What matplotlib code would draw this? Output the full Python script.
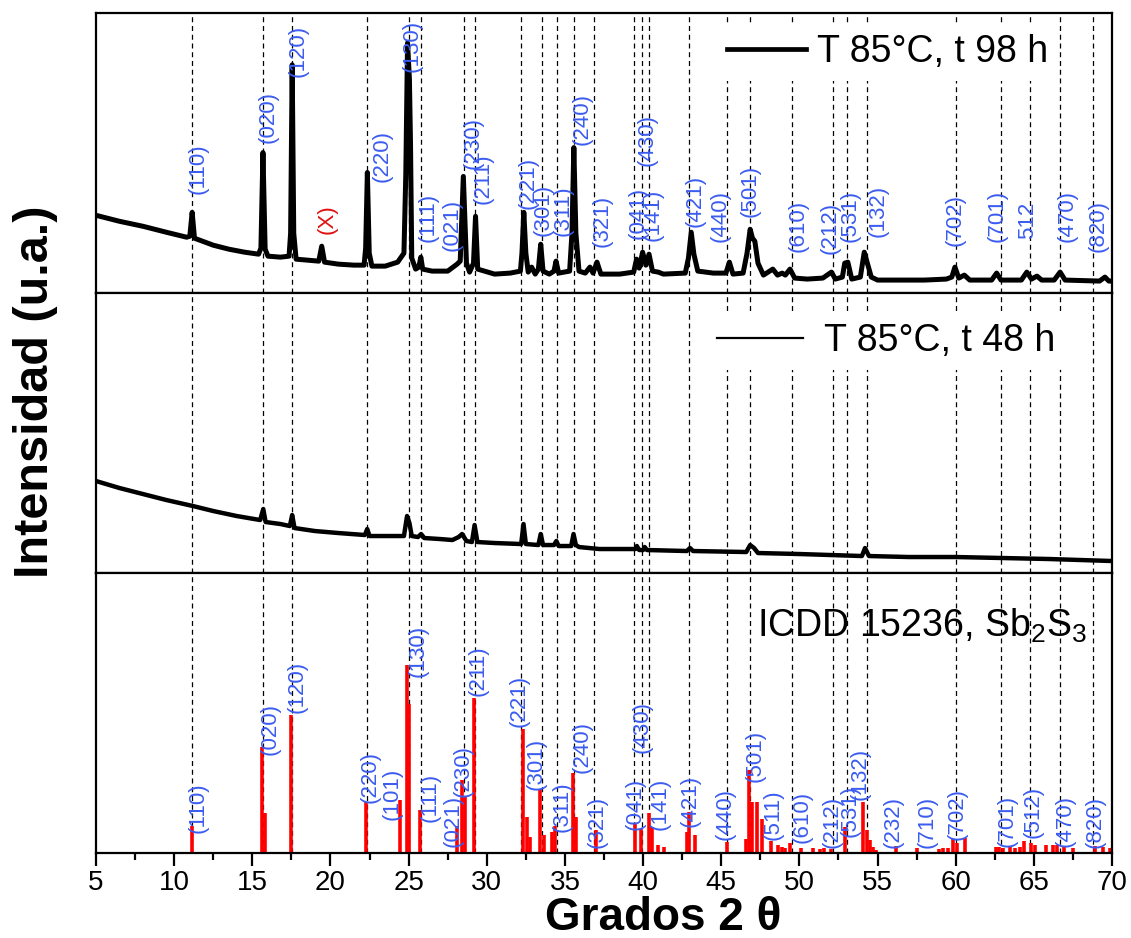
import matplotlib.pyplot as plt
from matplotlib.lines import Line2D
from matplotlib.ticker import MultipleLocator

plt.rcParams['font.family'] = ['Liberation Sans', 'DejaVu Sans']
plt.rcParams['mathtext.fontset'] = 'custom'
plt.rcParams['mathtext.rm'] = 'Liberation Sans'
plt.rcParams['mathtext.default'] = 'regular'

# dashed guide lines (2 theta of the indexed reflections)
ref_lines = [11.15, 15.68, 17.55, 22.35, 25.0, 25.78, 28.52, 29.22, 32.2, 33.53,
             34.5, 35.57, 36.88, 39.44, 39.92, 40.4, 42.95, 45.38, 46.86, 49.52,
             52.12, 53.05, 54.3, 60.0, 62.88, 64.76, 66.68, 68.8]

# sample T 85 C, t 98 h
x98 = [5.0, 6.5, 8.0, 9.5, 10.8, 11.0, 11.15, 11.3, 12.5, 13.5, 14.5, 15.4, 15.55, 15.68, 15.82,
       16.0, 16.8, 17.35, 17.45, 17.55, 17.65, 17.8, 18.5, 19.25, 19.44, 19.62, 20.5, 21.5,
       22.15, 22.25, 22.36, 22.48, 22.65, 23.5, 24.3, 24.7, 24.82, 24.93, 25.05, 25.12, 25.2,
       25.45, 25.65, 25.78, 25.9, 26.5, 27.5, 28.1, 28.3, 28.5, 28.7, 28.9, 29.15, 29.28, 29.42,
       30.5, 31.5, 32.15, 32.25, 32.37, 32.5, 32.65, 32.87, 33.1, 33.3, 33.45, 33.6, 34.0, 34.3,
       34.43, 34.6, 35.3, 35.45, 35.57, 35.7, 35.9, 36.3, 36.6, 36.8, 37.05, 37.3, 38.5, 39.4,
       39.58, 39.75, 39.97, 40.18, 40.38, 40.6, 40.97, 41.3, 42.7, 42.9, 43.08, 43.25, 43.5,
       44.5, 45.3, 45.52, 45.75, 46.4, 46.65, 46.85, 47.0, 47.15, 47.35, 47.7, 48.3, 48.6, 48.9,
       49.1, 49.4, 49.7, 50.5, 51.5, 52.05, 52.3, 52.75, 52.9, 53.1, 53.35, 53.9, 54.15, 54.35,
       54.6, 55.0, 56.5, 58.0, 59.4, 59.75, 59.95, 60.2, 60.55, 60.9, 62.3, 62.62, 62.9, 64.2,
       64.55, 64.85, 65.2, 65.5, 66.3, 66.68, 67.0, 69.2, 69.55, 69.8, 70.0]
y98 = [78, 72, 67, 61, 56, 57, 81, 55, 48, 44, 41, 39, 45, 141, 44,
       37, 36, 37, 60, 229, 60, 34, 33, 32, 47, 31, 29, 28,
       28, 45, 121, 40, 27, 27, 31, 40, 120, 251, 215, 150, 35,
       24, 26, 36, 24, 22, 22, 29, 32, 117, 30, 21, 30, 77, 24,
       19, 20, 22, 40, 81, 40, 21, 26, 19, 24, 49, 22, 19, 22,
       32, 20, 22, 60, 146, 60, 22, 20, 26, 20, 31, 19, 19, 21,
       34, 25, 41, 28, 39, 22, 21, 19, 20, 35, 61, 39, 22,
       20, 20, 31, 19, 20, 40, 64, 55, 52, 30, 18, 24, 18, 20,
       18, 24, 15, 14, 15, 21, 14, 16, 30, 31, 14, 16, 41, 30,
       16, 13, 13, 13, 14, 16, 26, 15, 18, 13, 13, 20, 13, 13,
       21, 14, 17, 13, 13, 21, 13, 12, 16, 12, 12]

# sample T 85 C, t 48 h
x48 = [5.0, 6.5, 8.0, 9.5, 11.2, 12.5, 14.0, 15.5, 15.7, 15.85, 16.8, 17.4, 17.55, 17.7, 19.0,
       20.5, 22.2, 22.35, 22.5, 23.5, 24.7, 24.9, 25.05, 25.2, 25.6, 25.8, 26.0, 27.0, 27.8,
       28.2, 28.42, 28.7, 29.05, 29.22, 29.4, 30.5, 32.2, 32.35, 32.5, 33.3, 33.45, 33.6, 34.3,
       34.45, 34.6, 35.4, 35.55, 35.7, 35.9, 37.2, 39.5, 39.6, 39.75, 40.0, 40.1, 40.25, 42.8,
       43.0, 43.2, 46.6, 46.85, 47.1, 47.35, 50.0, 54.0, 54.2, 54.45, 57.0, 60.0, 63.0, 66.0,
       68.0, 70.0]
y48 = [92, 85, 79, 73, 67, 62, 57, 53, 64, 51, 49, 47, 58, 45, 42,
       40, 38, 44, 37, 37, 37, 57, 50, 37, 36, 39, 35, 34, 33,
       36, 39, 32, 31, 48, 31, 30, 29, 49, 29, 28, 39, 28, 28,
       32, 27, 27, 39, 28, 26, 24, 24, 27, 23, 23, 26, 23, 22,
       25, 22, 21, 28, 25, 20, 19, 17, 25, 17, 16, 16, 15, 14,
       13, 12]

# ICDD 15236 Sb2S3 reference sticks
icdd_x = [11.15, 15.65, 15.8, 17.5, 22.3, 24.45, 24.87, 25.03, 25.73, 28.08, 28.42, 28.6,
          29.2, 32.3, 32.55, 32.75, 33.4, 33.65, 34.2, 34.35, 35.5, 35.7, 37.0, 39.5, 39.85,
          40.4, 40.6, 40.95, 41.35, 42.8, 42.95, 43.3, 45.4, 46.6, 46.75, 47.0, 47.3, 47.6,
          48.2, 48.6, 48.9, 49.1, 49.4, 50.1, 50.9, 51.3, 51.6, 52.0, 52.9, 54.1, 54.3, 54.5,
          54.7, 54.9, 56.2, 57.5, 58.9, 59.2, 59.5, 59.8, 60.1, 60.6, 62.6, 62.8, 63.0, 63.5,
          63.8, 64.1, 64.4, 64.8, 65.1, 65.8, 66.2, 66.5, 66.9, 67.5, 68.9, 69.4, 69.9]
icdd_h = [27, 106, 40, 138, 51, 53, 187, 148, 43, 27, 73, 56,
          154, 124, 36, 16, 64, 18, 21, 27, 80, 36, 23, 30, 24,
          40, 26, 8, 6, 21, 41, 18, 11, 14, 83, 51, 51, 34,
          12, 8, 6, 5, 10, 5, 5, 4, 5, 4, 26, 51, 23, 13,
          6, 3, 7, 5, 4, 5, 5, 14, 10, 15, 6, 6, 5, 6,
          5, 6, 12, 10, 8, 8, 8, 8, 6, 5, 7, 6, 5]

# Miller index labels: (text, x, bottom of label)
top_labels = ['(110)', '(020)', '(120)', '(220)', '(130)', '(111)', '(021)', '(230)', '(211)',
              '(221)', '(301)', '(311)', '(240)', '(321)', '(041)', '(430)', '(141)', '(421)',
              '(440)', '(501)', '(610)', '(212)', '(531)', '(132)', '(702)', '(701)', '512',
              '(470)', '(820)']
top_lab_x = [11.53, 16.0, 17.93, 23.3, 25.22, 26.24, 27.76, 29.12, 29.76, 32.64, 33.6, 34.88,
             36.09, 37.35, 39.68, 40.23, 40.64, 43.32, 44.92, 46.84, 49.9, 51.96, 53.24, 55.03,
             59.96, 62.63, 64.6, 67.1, 69.1]
top_lab_y = [99, 151, 217, 111, 222, 51, 42, 124, 89, 84, 57, 57, 149, 46, 54, 127, 52, 66,
             51, 76, 41, 39, 51, 56, 47, 51, 54, 51, 41]

bot_labels = ['(110)', '(020)', '(120)', '(220)', '(101)', '(130)', '(111)', '(021)', '(230)',
              '(211)', '(221)', '(301)', '(311)', '(240)', '(321)', '(041)', '(430)', '(141)',
              '(421)', '(440)', '(501)', '(511)', '(610)', '(212)', '(531)', '(132)', '(232)',
              '(710)', '(702)', '(701)', '(512)', '(470)', '(820)']
bot_lab_x = [11.53, 16.13, 17.86, 22.53, 23.94, 25.6, 26.37, 27.82, 28.5, 29.44, 32.07, 33.15,
             34.8, 36.07, 37.03, 39.48, 39.97, 41.1, 43.0, 45.24, 47.16, 48.3, 50.15, 52.07,
             53.24, 53.88, 56.0, 58.15, 60.07, 63.27, 64.97, 67.0, 68.9]
bot_lab_y = [20, 98, 140, 50, 33, 175, 31, 6, 56, 156, 126, 63, 21, 80, 5, 23, 100, 23, 26,
             13, 71, 13, 10, 5, 16, 53, 5, 5, 13, 6, 15, 6, 5]

blue = '#3a5cf0'

fig, axes = plt.subplots(3, 1, sharex=True, figsize=(11.31, 9.38), dpi=100)
fig.subplots_adjust(left=0.0849, right=0.9832, top=0.9861, bottom=0.0906, hspace=0)
ax1, ax2, ax3 = axes

for ax in axes:
    for xv in ref_lines:
        ax.axvline(xv, color='k', lw=0.9, ls=(0, (4, 3)), zorder=0)
    ax.set_yticks([])
    for sp in ax.spines.values():
        sp.set_linewidth(1.6)
    ax.set_xlim(5, 70)

# top panel
ax1.plot(x98, y98, color='k', lw=3.6, solid_joinstyle='round', zorder=2)
ax1.set_ylim(0, 281)
for s, xv, yv in zip(top_labels, top_lab_x, top_lab_y):
    ax1.text(xv, yv, s, rotation=90, ha='center', va='bottom', fontsize=16, color=blue, zorder=3)
ax1.text(19.78, 59, '(X)', rotation=90, ha='center', va='bottom', fontsize=16, color='#e01010', zorder=3)
h1 = Line2D([], [], color='k', lw=3.4)
ax1.legend([h1], ['T 85°C, t 98 h'], loc='center left', bbox_to_anchor=(0.61, 0.861),
           fontsize=27, frameon=True, facecolor='white', edgecolor='none', framealpha=1,
           borderpad=0.3, handlelength=2.1, handletextpad=0.3, borderaxespad=0)

# middle panel
ax2.plot(x48, y48, color='k', lw=3.2, solid_joinstyle='round', zorder=2)
ax2.set_ylim(0, 280)
h2 = Line2D([], [], color='k', lw=1.6)
ax2.legend([h2], ['T 85°C, t 48 h'], loc='center left', bbox_to_anchor=(0.60, 0.829),
           fontsize=27, frameon=True, facecolor='white', edgecolor='none', framealpha=1,
           borderpad=0.3, handlelength=2.3, handletextpad=0.55, borderaxespad=0)

# bottom panel
ax3.vlines(icdd_x, 0, icdd_h, color='#ff0000', lw=2.6, zorder=2)
ax3.set_ylim(0, 279)
for s, xv, yv in zip(bot_labels, bot_lab_x, bot_lab_y):
    ax3.text(xv, yv, s, rotation=90, ha='center', va='bottom', fontsize=16, color=blue, zorder=3)
ax3.text(47.29, 216, 'ICDD 15236, Sb$_2$S$_3$', fontsize=27, ha='left', va='baseline')

for ax in (ax1, ax2):
    ax.tick_params(axis='x', which='both', length=0, labelbottom=False)
ax3.xaxis.set_major_locator(MultipleLocator(5))
ax3.xaxis.set_minor_locator(MultipleLocator(2.5))
ax3.tick_params(axis='x', which='major', direction='out', length=9, width=1.6, labelsize=20)
ax3.tick_params(axis='x', which='minor', direction='out', length=5, width=1.6)

fig.text(663 / 1131, 1 - 918 / 938, 'Grados 2 θ', fontsize=33, fontweight='bold',
         ha='center', va='center')
fig.text(0.031, 1 - 392 / 938, 'Intensidad (u.a.)', rotation=90, fontsize=35,
         fontweight='bold', ha='center', va='center')

plt.savefig('out.png', dpi=100)
